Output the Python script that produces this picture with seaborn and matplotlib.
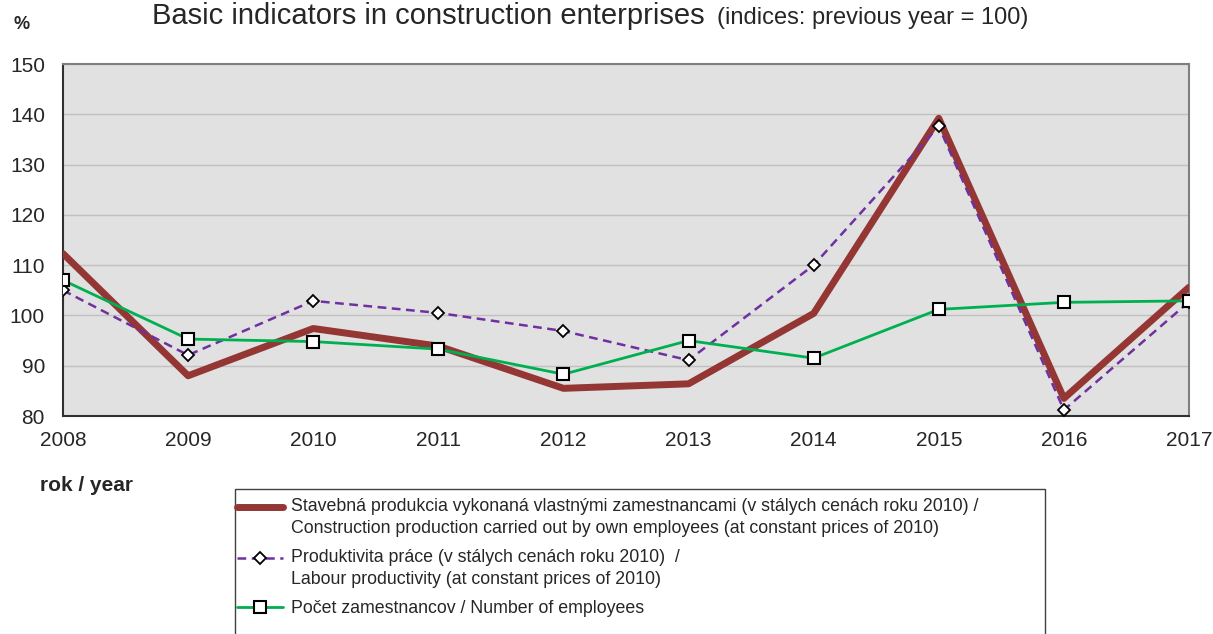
import pandas as pd
import matplotlib.pyplot as plt
import seaborn as sns
from matplotlib.patches import Rectangle

# data (index, previous year = 100)
years = [2008, 2009, 2010, 2011, 2012, 2013, 2014, 2015, 2016, 2017]
production = [112.3, 88.0, 97.4, 93.9, 85.5, 86.4, 100.4, 139.2, 83.5, 105.6]
productivity = [105.0, 92.1, 102.9, 100.5, 96.9, 91.1, 110.0, 137.6, 81.2, 102.7]
employees = [107.0, 95.3, 94.8, 93.3, 88.3, 95.0, 91.5, 101.2, 102.6, 102.9]

lab_prod = ('Stavebná produkcia vykonaná vlastnými zamestnancami (v stálych cenách roku 2010) /\n'
            'Construction production carried out by own employees (at constant prices of 2010)')
lab_pty = 'Produktivita práce (v stálych cenách roku 2010)  /\nLabour productivity (at constant prices of 2010)'
lab_emp = 'Počet zamestnancov / Number of employees'

df = pd.DataFrame({'year': years, 'prod': production, 'pty': productivity, 'emp': employees})

sns.set_style('white')
plt.rcParams['font.family'] = ['Liberation Sans', 'DejaVu Sans']

fig = plt.figure(figsize=(12.13, 6.34), dpi=100)
ax = fig.add_axes([63 / 1213, 1 - 416 / 634, (1189 - 63) / 1213, (416 - 64) / 634])
ax.set_facecolor('#e1e1e1')

sns.lineplot(data=df, x='year', y='prod', ax=ax, color='#943634', linewidth=5,
             label=lab_prod, zorder=3)
sns.lineplot(data=df, x='year', y='pty', ax=ax, color='#7030a0', linewidth=1.8,
             linestyle=(0, (3.5, 2.2)), marker='D', markersize=6.5, markerfacecolor='white',
             markeredgecolor='black', markeredgewidth=1.3, label=lab_pty, zorder=4)
sns.lineplot(data=df, x='year', y='emp', ax=ax, color='#00b050', linewidth=2,
             marker='s', markersize=9, markerfacecolor='white',
             markeredgecolor='black', markeredgewidth=1.5, label=lab_emp, zorder=5)

ax.set_xlim(2008, 2017)
ax.set_ylim(80, 150)
ax.set_xticks(years)
ax.set_yticks(range(80, 151, 10))
ax.yaxis.grid(True, color='#c0c0c0', linewidth=1)
ax.set_axisbelow(True)
ax.tick_params(axis='both', labelsize=15, color='black')
ax.tick_params(axis='x', direction='inout', length=10, pad=6)
ax.tick_params(axis='y', direction='out', length=6, pad=7)
ax.set_xlabel('')
ax.set_ylabel('')
for side in ['top', 'right']:
    ax.spines[side].set_color('#808080')
    ax.spines[side].set_linewidth(1.5)
for side in ['left', 'bottom']:
    ax.spines[side].set_color('#303030')
    ax.spines[side].set_linewidth(1.5)

handles, labels = ax.get_legend_handles_labels()
ax.get_legend().remove()

# titles and axis captions
fig.text(152 / 1213, 1 - 24 / 634, 'Basic indicators in construction enterprises',
         fontsize=21, va='baseline', ha='left')
fig.text(717 / 1213, 1 - 24 / 634, '(indices: previous year = 100)',
         fontsize=17, va='baseline', ha='left')
fig.text(14 / 1213, 1 - 29 / 634, '%', fontsize=13, fontweight='bold', va='baseline')
fig.text(40 / 1213, 1 - 491 / 634, 'rok / year', fontsize=15, fontweight='bold', va='baseline')

# legend box running off the bottom edge
fig.patches.append(Rectangle((235 / 1213, -0.1), (1045 - 235) / 1213, 0.1 + 1 - 489 / 634,
                             transform=fig.transFigure, facecolor='white',
                             edgecolor='#404040', linewidth=1))
leg = fig.legend(handles, labels, loc='upper left', bbox_to_anchor=(237 / 1213, 1 - 498 / 634),
                 frameon=False, fontsize=12.8, handlelength=2.6, handletextpad=0.45,
                 labelspacing=0.7, borderaxespad=0, borderpad=0)
for t in leg.get_texts():
    t.set_linespacing(1.35)
# put the handle level with the first text line of two-line entries
for h, lab in zip(leg.legend_handles, labels):
    if '\n' in lab:
        h.set_ydata([y + 7.5 for y in h.get_ydata()])

fig.savefig('out.png', dpi=100)
